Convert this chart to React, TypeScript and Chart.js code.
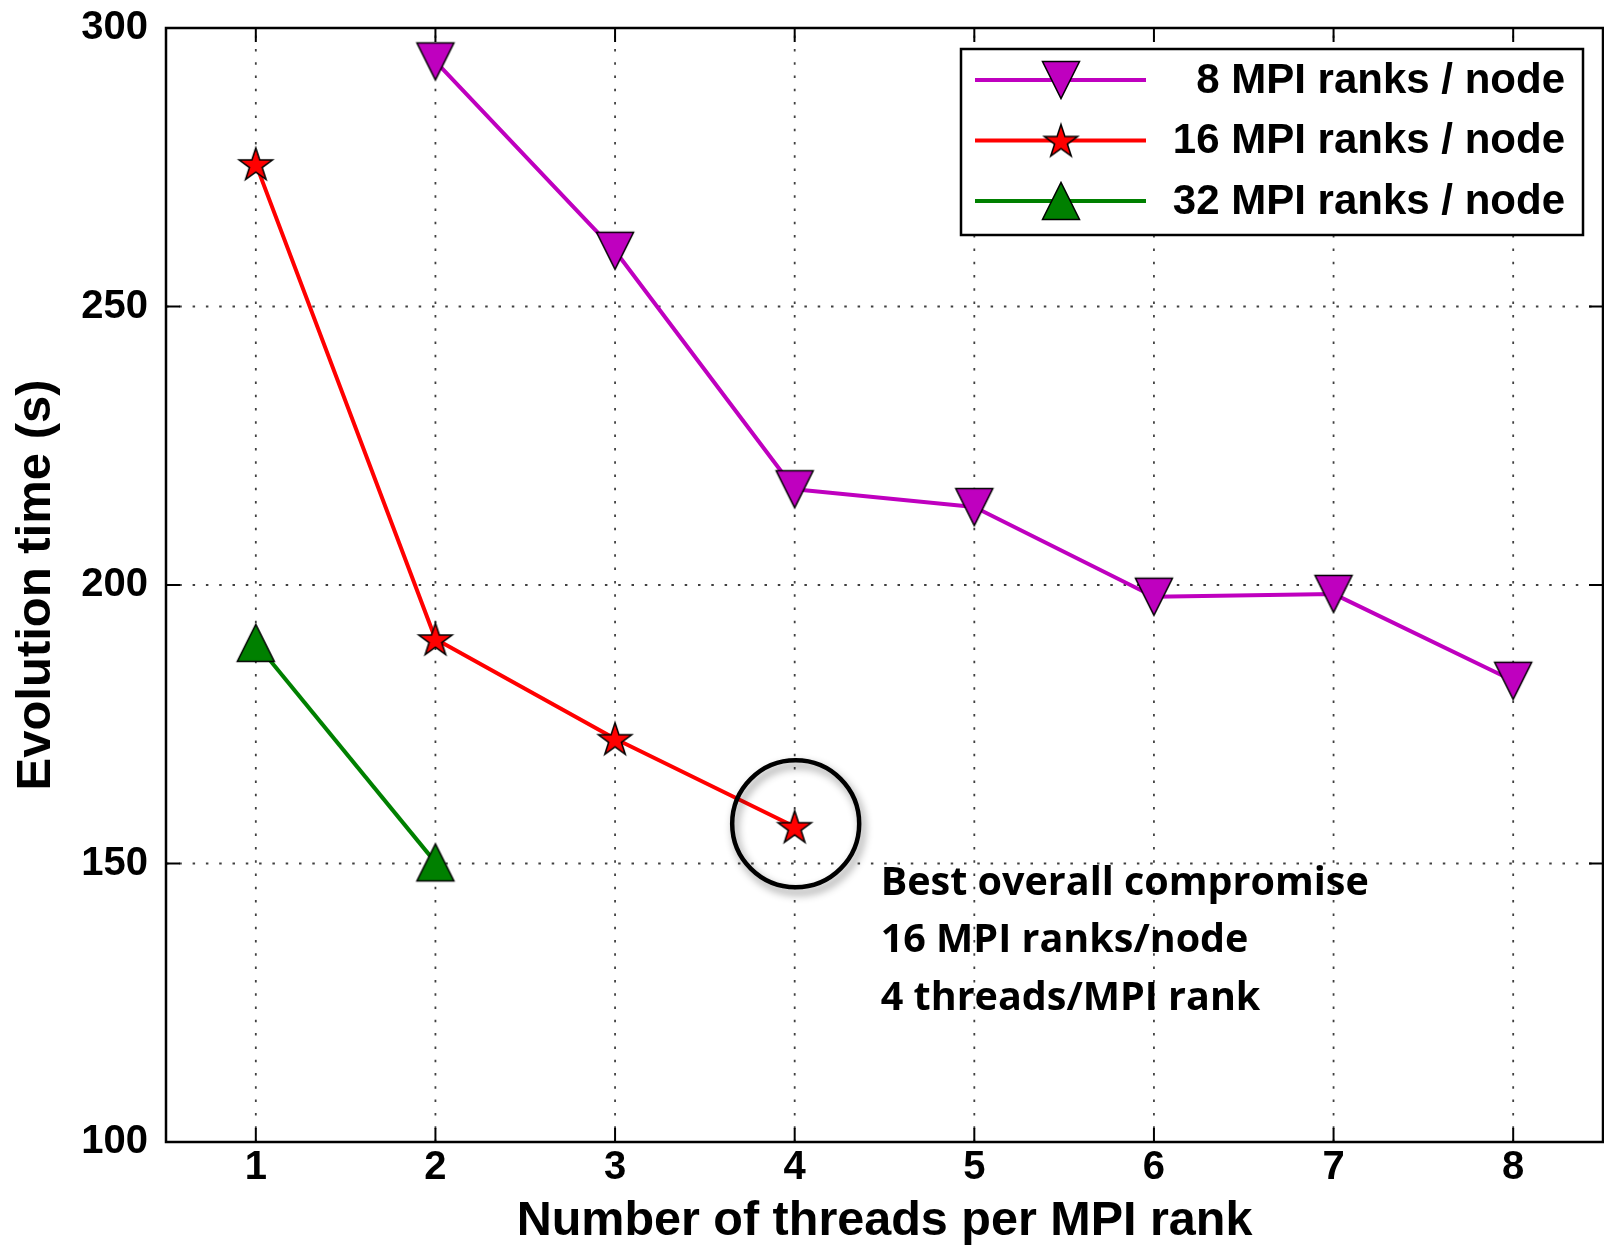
import React, { useEffect, useRef } from 'react';
import { Chart, registerables } from 'chart.js';

Chart.register(...registerables);

// ---- data ----
const xTicks = [1, 2, 3, 4, 5, 6, 7, 8];
const yTicks = [100, 150, 200, 250, 300];
const ranks8Threads = [2, 3, 4, 5, 6, 7, 8];
const ranks8Time = [294.0, 260.0, 217.2, 214.0, 197.9, 198.4, 182.8];
const ranks16Threads = [1, 2, 3, 4];
const ranks16Time = [275.6, 190.3, 172.4, 156.6];
const ranks32Threads = [1, 2];
const ranks32Time = [189.6, 150.2];
const seriesLabels = ['8 MPI ranks / node', '16 MPI ranks / node', '32 MPI ranks / node'];
const seriesColors = ['#BF00BF', '#FF0000', '#008000'];
const xTitle = 'Number of threads per MPI rank';
const yTitle = 'Evolution time (s)';
const annotationLines = ['Best overall compromise', '16 MPI ranks/node', '4 threads/MPI rank'];
const highlightThreads = 4;
const highlightTime = 156.6;

const FONT = "'Liberation Sans', Arial, Helvetica, sans-serif";

function makeTriangle(down: boolean, fill: string): HTMLCanvasElement {
  const s = 44;
  const c = document.createElement('canvas');
  c.width = s; c.height = s;
  const ctx = c.getContext('2d')!;
  const h = 18.5;
  const m = s / 2;
  ctx.beginPath();
  if (down) {
    ctx.moveTo(m - h, m - h);
    ctx.lineTo(m + h, m - h);
    ctx.lineTo(m, m + h);
  } else {
    ctx.moveTo(m - h, m + h);
    ctx.lineTo(m + h, m + h);
    ctx.lineTo(m, m - h);
  }
  ctx.closePath();
  ctx.fillStyle = fill;
  ctx.fill();
  ctx.lineWidth = 1.5;
  ctx.strokeStyle = '#000';
  ctx.lineJoin = 'miter';
  ctx.stroke();
  return c;
}

function makeStar(fill: string): HTMLCanvasElement {
  const s = 40;
  const c = document.createElement('canvas');
  c.width = s; c.height = s;
  const ctx = c.getContext('2d')!;
  const R = 17.5;
  const r = R * 0.381966;
  const m = s / 2;
  ctx.beginPath();
  for (let i = 0; i < 10; i++) {
    const ang = -Math.PI / 2 + (i * Math.PI) / 5;
    const rad = i % 2 === 0 ? R : r;
    const px = m + Math.cos(ang) * rad;
    const py = m + 1.5 + Math.sin(ang) * rad;
    if (i === 0) ctx.moveTo(px, py); else ctx.lineTo(px, py);
  }
  ctx.closePath();
  ctx.fillStyle = fill;
  ctx.fill();
  ctx.lineWidth = 1.5;
  ctx.strokeStyle = '#000';
  ctx.stroke();
  return c;
}

export default function App() {
  const ref = useRef<HTMLCanvasElement>(null);

  useEffect(() => {
    const canvas = ref.current!;
    const markers = [makeTriangle(true, seriesColors[0]), makeStar(seriesColors[1]), makeTriangle(false, seriesColors[2])];

    const gridPlugin = {
      id: 'mplGrid',
      beforeDatasetsDraw(chart: any) {
        const { ctx, chartArea: a, scales } = chart;
        ctx.save();
        ctx.strokeStyle = 'rgba(0,0,0,0.75)';
        ctx.lineWidth = 1.8;
        ctx.setLineDash([2.5, 10.8]);
        xTicks.forEach((v) => {
          const x = scales.x.getPixelForValue(v);
          ctx.beginPath(); ctx.moveTo(x, a.bottom); ctx.lineTo(x, a.top); ctx.stroke();
        });
        yTicks.forEach((v) => {
          const y = scales.y.getPixelForValue(v);
          if (Math.abs(y - a.top) < 2 || Math.abs(y - a.bottom) < 2) return;
          ctx.beginPath(); ctx.moveTo(a.left, y); ctx.lineTo(a.right, y); ctx.stroke();
        });
        ctx.restore();
      },
    };

    const overlayPlugin = {
      id: 'mplOverlay',
      afterDraw(chart: any) {
        const { ctx, chartArea: a, scales } = chart;
        ctx.save();
        // frame
        ctx.setLineDash([]);
        ctx.strokeStyle = '#000';
        ctx.lineWidth = 2.5;
        ctx.strokeRect(a.left, a.top, a.right - a.left, a.bottom - a.top);
        // inward ticks on all sides
        ctx.lineWidth = 2;
        const tl = 14;
        xTicks.forEach((v) => {
          const x = scales.x.getPixelForValue(v);
          ctx.beginPath(); ctx.moveTo(x, a.bottom); ctx.lineTo(x, a.bottom - tl); ctx.stroke();
          ctx.beginPath(); ctx.moveTo(x, a.top); ctx.lineTo(x, a.top + tl); ctx.stroke();
        });
        yTicks.forEach((v) => {
          const y = scales.y.getPixelForValue(v);
          ctx.beginPath(); ctx.moveTo(a.left, y); ctx.lineTo(a.left + tl, y); ctx.stroke();
          ctx.beginPath(); ctx.moveTo(a.right, y); ctx.lineTo(a.right - tl, y); ctx.stroke();
        });

        // annotation circle
        const hx = scales.x.getPixelForValue(highlightThreads);
        const hy = scales.y.getPixelForValue(highlightTime);
        ctx.save();
        ctx.shadowColor = 'rgba(0,0,0,0.45)';
        ctx.shadowBlur = 8;
        ctx.shadowOffsetX = 3;
        ctx.shadowOffsetY = 5;
        ctx.beginPath();
        ctx.ellipse(hx + 1, hy - 3, 63.5, 63.5, 0, 0, Math.PI * 2);
        ctx.lineWidth = 4.5;
        ctx.strokeStyle = '#000';
        ctx.stroke();
        ctx.restore();

        // annotation text
        ctx.fillStyle = '#000';
        ctx.font = "bold 39.5px 'Open Sans', Lato, sans-serif";
        ctx.textAlign = 'left';
        ctx.textBaseline = 'middle';
        annotationLines.forEach((t, i) => {
          ctx.fillText(t, hx + 86, hy + 57 + i * 57.5);
        });

        // legend
        const bw = 622, bh = 186;
        const bx = a.right - 20 - bw;
        const by = a.top + 21;
        ctx.fillStyle = '#fff';
        ctx.fillRect(bx, by, bw, bh);
        ctx.lineWidth = 2.5;
        ctx.strokeStyle = '#000';
        ctx.strokeRect(bx, by, bw, bh);
        ctx.font = `bold 42px ${FONT}`;
        ctx.textAlign = 'right';
        ctx.textBaseline = 'middle';
        seriesLabels.forEach((lab, i) => {
          const ry = by + 31 + i * 60.5;
          ctx.beginPath();
          ctx.moveTo(bx + 14, ry);
          ctx.lineTo(bx + 185, ry);
          ctx.lineWidth = 4;
          ctx.strokeStyle = seriesColors[i];
          ctx.stroke();
          const m = markers[i];
          ctx.drawImage(m, bx + 100 - m.width / 2, ry - m.height / 2);
          ctx.fillStyle = '#000';
          ctx.fillText(lab, bx + bw - 18, ry + 1);
        });
        ctx.restore();
      },
    };

    const mk = (xs: number[], ys: number[]) => xs.map((x, i) => ({ x, y: ys[i] }));

    const chart = new Chart(canvas, {
      type: 'line',
      data: {
        datasets: [
          { label: seriesLabels[0], data: mk(ranks8Threads, ranks8Time), borderColor: seriesColors[0], backgroundColor: seriesColors[0], borderWidth: 4, pointStyle: markers[0] as any, pointRadius: 18, borderJoinStyle: 'round', clip: false as any },
          { label: seriesLabels[1], data: mk(ranks16Threads, ranks16Time), borderColor: seriesColors[1], backgroundColor: seriesColors[1], borderWidth: 4, pointStyle: markers[1] as any, pointRadius: 17, borderJoinStyle: 'round', clip: false as any },
          { label: seriesLabels[2], data: mk(ranks32Threads, ranks32Time), borderColor: seriesColors[2], backgroundColor: seriesColors[2], borderWidth: 4, pointStyle: markers[2] as any, pointRadius: 18, borderJoinStyle: 'round', clip: false as any },
        ],
      },
      options: {
        animation: false,
        responsive: false,
        devicePixelRatio: 1,
        layout: { autoPadding: false, padding: { top: 28, right: 1, left: 0, bottom: 0 } },
        plugins: { legend: { display: false }, tooltip: { enabled: false } },
        scales: {
          x: {
            type: 'linear',
            min: 0.5,
            max: 8.5,
            afterBuildTicks: (s: any) => { s.ticks = xTicks.map((v) => ({ value: v })); },
            afterFit: (s: any) => { s.height = 103; s.paddingLeft = 0; s.paddingRight = 0; },
            grid: { display: false, drawTicks: false },
            border: { display: false },
            ticks: { color: '#000', padding: 2, font: { family: FONT, size: 40, weight: 'bold', lineHeight: 1.2 }, maxRotation: 0 },
            title: { display: true, text: xTitle, color: '#000', padding: { top: 0, bottom: 1.4 }, font: { family: FONT, size: 48.5, weight: 'bold', lineHeight: 0.9 } },
          },
          y: {
            type: 'linear',
            min: 100,
            max: 300,
            afterBuildTicks: (s: any) => { s.ticks = yTicks.map((v) => ({ value: v })); },
            afterFit: (s: any) => { s.width = 166; s.paddingTop = 0; s.paddingBottom = 0; },
            grid: { display: false, drawTicks: false },
            border: { display: false },
            ticks: { color: '#000', padding: 18, font: { family: FONT, size: 40, weight: 'bold' } },
            title: { display: true, text: yTitle, color: '#000', padding: { top: 12, bottom: 0 }, font: { family: FONT, size: 49, weight: 'bold', lineHeight: 1 } },
          },
        },
      } as any,
      plugins: [gridPlugin, overlayPlugin],
    });
    return () => chart.destroy();
  }, []);

  return (
    <div style={{ position: 'fixed', left: 0, top: 0, width: 1604, height: 1245, background: '#fff' }}>
      <canvas ref={ref} width={1604} height={1245} style={{ display: 'block' }} />
    </div>
  );
}
